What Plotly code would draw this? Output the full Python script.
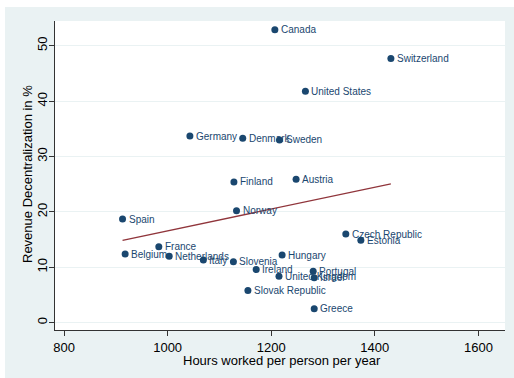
import numpy as np
import plotly.graph_objects as go

countries = ["Canada", "Switzerland", "United States", "Germany", "Denmark", "Sweden",
             "Finland", "Austria", "Norway", "Spain", "Czech Republic", "Estonia",
             "France", "Belgium", "Netherlands", "Italy", "Slovenia", "Hungary",
             "Ireland", "United Kingdom", "Portugal", "Israel", "Slovak Republic", "Greece"]
hours = [1207, 1431, 1266, 1043, 1145, 1216,
         1128, 1248, 1133, 913, 1344, 1373,
         983, 918, 1003, 1069, 1127, 1221,
         1171, 1215, 1281, 1283, 1155, 1283]
revenue_dec = [52.9, 47.7, 41.8, 33.7, 33.3, 33.0,
               25.4, 25.9, 20.2, 18.7, 16.0, 14.9,
               13.7, 12.4, 12.0, 11.3, 11.0, 12.2,
               9.6, 8.4, 9.3, 8.1, 5.8, 2.5]
x_ticks = [800, 1000, 1200, 1400, 1600]
y_ticks = [0, 10, 20, 30, 40, 50]

NAVY = "#1a476f"
MAROON = "#90353b"
REGION = "#eaf2f3"
AXIS = "#333333"
FONT = "Arial, Liberation Sans"

# plot-area geometry in pixels
W, H = 514, 378
L, R, T, B = 55, 9, 21, 48
pw, ph = W - L - R, H - T - B

def px_x(p):
    return (p - L) / pw

def px_y(p):
    return (H - B - p) / ph

# linear fit across the observed range
hx = np.array(hours, dtype=float)
ry = np.array(revenue_dec, dtype=float)
slope, intercept = np.polyfit(hx, ry, 1)
fit_x = np.array([hx.min(), hx.max()])
fit_y = slope * fit_x + intercept

fig = go.Figure()
fig.add_trace(go.Scatter(x=hours, y=revenue_dec, mode="markers",
                         marker=dict(color=NAVY, size=7, line=dict(width=0)),
                         hoverinfo="skip"))
fig.add_trace(go.Scatter(x=fit_x, y=fit_y, mode="lines",
                         line=dict(color=MAROON, width=1.3), hoverinfo="skip"))

annotations = []
for name, xv, yv in zip(countries, hours, revenue_dec):
    annotations.append(dict(x=xv, y=yv, text=name, showarrow=False,
                            xanchor="left", yanchor="middle", xshift=4,
                            font=dict(family=FONT, size=10, color=NAVY)))

# axis titles
annotations.append(dict(xref="paper", yref="paper", x=px_x(282), y=px_y(360),
                        xanchor="center", yanchor="middle", showarrow=False,
                        text="Hours worked per person per year",
                        font=dict(family=FONT, size=13, color="#000000")))
annotations.append(dict(xref="paper", yref="paper", x=px_x(27), y=px_y(174),
                        xanchor="center", yanchor="middle", showarrow=False, textangle=-90,
                        text="Revenue Decentralization in %",
                        font=dict(family=FONT, size=13, color="#000000")))

# title, mostly above the visible area
annotations.append(dict(xref="paper", yref="paper", x=px_x(76), y=px_y(1.8),
                        xanchor="left", yanchor="bottom", showarrow=False,
                        text="Working Hours and Revenue Sharing",
                        font=dict(family=FONT, size=18.5, color="#000000")))

shapes = [
    # white strips framing the shaded graph region
    dict(type="rect", xref="paper", yref="paper", x0=px_x(0), x1=px_x(W), y0=px_y(7), y1=px_y(-5),
         fillcolor="white", line=dict(width=0), layer="below"),
    dict(type="rect", xref="paper", yref="paper", x0=px_x(-5), x1=px_x(5), y0=px_y(H + 5), y1=px_y(-5),
         fillcolor="white", line=dict(width=0), layer="below"),
]

fig.update_layout(
    width=W, height=H,
    margin=dict(l=L, r=R, t=T, b=B, pad=0),
    paper_bgcolor=REGION, plot_bgcolor="white",
    showlegend=False,
    annotations=annotations,
    shapes=shapes,
    font=dict(family=FONT, size=13, color="#000000"),
)
fig.update_xaxes(range=[782.6, 1651.3], tickvals=x_ticks, ticks="outside", ticklen=5,
                 tickcolor=AXIS, showline=True, linecolor=AXIS, linewidth=1,
                 showgrid=False, zeroline=False, tickfont=dict(size=13, color="#000000"))
fig.update_yaxes(range=[-1.32, 54.46], tickvals=y_ticks, ticks="outside", ticklen=5,
                 tickcolor=AXIS, showline=True, linecolor=AXIS, linewidth=1,
                 showgrid=True, gridcolor=REGION, gridwidth=1, zeroline=False,
                 tickangle=-90, ticklabelstandoff=-3, tickfont=dict(size=13, color="#000000"))

fig.write_html("out.html")
